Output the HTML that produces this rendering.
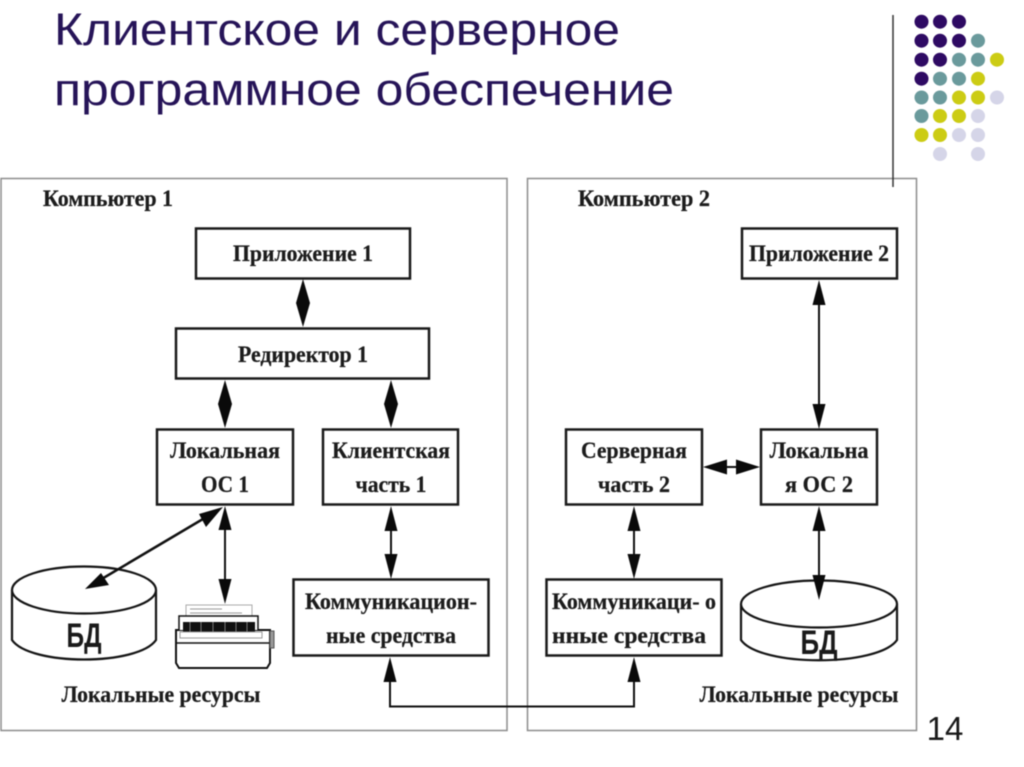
<!DOCTYPE html>
<html><head><meta charset="utf-8"><style>
html,body{margin:0;padding:0;background:#fff;width:1024px;height:767px;overflow:hidden}
svg{display:block;filter:blur(.4px)}
.t{font-family:"Liberation Serif",serif;font-weight:bold;font-size:23px;fill:#1c1c1c;text-anchor:middle;stroke:#1c1c1c;stroke-width:.25}
.h{font-family:"Liberation Sans",sans-serif;font-size:45px;fill:#261458}
.b{fill:#fff;stroke:#1a1a1a;stroke-width:2.5}
.l{stroke:#111;stroke-width:2;fill:none}
.a{fill:#0a0a0a}
</style></head><body>
<svg width="1024" height="767" viewBox="0 0 1024 767" xmlns="http://www.w3.org/2000/svg">
<rect width="1024" height="767" fill="#fff"/>
<text class="h" x="54" y="45" textLength="566" lengthAdjust="spacingAndGlyphs">Клиентское и серверное</text>
<text class="h" x="54" y="105" textLength="620" lengthAdjust="spacingAndGlyphs">программное обеспечение</text>

<!-- panels -->
<rect x="1" y="178.500" width="506" height="552" fill="none" stroke="#8c8c8c" stroke-width="1.500"/>
<rect x="527.500" y="178.500" width="389" height="552" fill="none" stroke="#8c8c8c" stroke-width="1.500"/>
<line x1="893" y1="15" x2="893" y2="187" stroke="#333" stroke-width="1.500"/>

<!-- dots -->
<g fill="#2e0a63">
<circle cx="921.500" cy="21.700" r="7"/><circle cx="940" cy="21.700" r="7"/><circle cx="959" cy="21.700" r="7"/>
<circle cx="921.500" cy="40.700" r="7"/><circle cx="940" cy="40.700" r="7"/><circle cx="959" cy="40.700" r="7"/>
<circle cx="921.500" cy="59.700" r="7"/><circle cx="940" cy="59.700" r="7"/>
<circle cx="921.500" cy="78.700" r="7"/>
</g>
<g fill="#6a9a9c">
<circle cx="978" cy="40.700" r="7"/>
<circle cx="959" cy="59.700" r="7"/><circle cx="978" cy="59.700" r="7"/>
<circle cx="940" cy="78.700" r="7"/><circle cx="959" cy="78.700" r="7"/>
<circle cx="921.500" cy="97.500" r="7"/><circle cx="940" cy="97.500" r="7"/>
<circle cx="921.500" cy="116" r="7"/>
</g>
<g fill="#cccc14">
<circle cx="997" cy="59.700" r="7"/>
<circle cx="978" cy="78.700" r="7"/>
<circle cx="959" cy="97.500" r="7"/><circle cx="978" cy="97.500" r="7"/>
<circle cx="940" cy="116" r="7"/><circle cx="959" cy="116" r="7"/>
<circle cx="921.500" cy="135" r="7"/><circle cx="940" cy="135" r="7"/>
</g>
<g fill="#d5d5e8">
<circle cx="997" cy="97.500" r="7"/>
<circle cx="978" cy="116" r="7"/>
<circle cx="959" cy="135" r="7"/><circle cx="978" cy="135" r="7"/>
<circle cx="940" cy="154" r="7"/><circle cx="978" cy="154" r="7"/>
</g>

<!-- labels -->
<text class="t" x="108" y="206" textLength="130" lengthAdjust="spacingAndGlyphs">Компьютер 1</text>
<text class="t" x="644" y="206" textLength="132" lengthAdjust="spacingAndGlyphs">Компьютер 2</text>

<!-- boxes -->
<rect class="b" x="196" y="228.500" width="214" height="50"/>
<rect class="b" x="176" y="328.500" width="253" height="50"/>
<rect class="b" x="157" y="429.500" width="136" height="75"/>
<rect class="b" x="323" y="429.500" width="135" height="75"/>
<rect class="b" x="293.500" y="579.500" width="195" height="76"/>
<rect class="b" x="742" y="228.500" width="155" height="50"/>
<rect class="b" x="566" y="429.500" width="136" height="75"/>
<rect class="b" x="761" y="429.500" width="116" height="75"/>
<rect class="b" x="546.500" y="579.500" width="175" height="76"/>

<text class="t" x="303" y="261" textLength="140" lengthAdjust="spacingAndGlyphs">Приложение 1</text>
<text class="t" x="303" y="362" textLength="130" lengthAdjust="spacingAndGlyphs">Редиректор 1</text>
<text class="t" x="225" y="458" textLength="110" lengthAdjust="spacingAndGlyphs">Локальная</text>
<text class="t" x="225" y="492" textLength="48" lengthAdjust="spacingAndGlyphs">ОС 1</text>
<text class="t" x="391" y="458" textLength="118" lengthAdjust="spacingAndGlyphs">Клиентская</text>
<text class="t" x="391" y="492" textLength="71" lengthAdjust="spacingAndGlyphs">часть 1</text>
<text class="t" x="391" y="609" textLength="172" lengthAdjust="spacingAndGlyphs">Коммуникацион-</text>
<text class="t" x="391" y="643" textLength="130" lengthAdjust="spacingAndGlyphs">ные средства</text>
<text class="t" x="819" y="261" textLength="140" lengthAdjust="spacingAndGlyphs">Приложение 2</text>
<text class="t" x="634" y="458" textLength="106" lengthAdjust="spacingAndGlyphs">Серверная</text>
<text class="t" x="634" y="492" textLength="72" lengthAdjust="spacingAndGlyphs">часть 2</text>
<text class="t" x="819" y="458" textLength="99" lengthAdjust="spacingAndGlyphs">Локальна</text>
<text class="t" x="819" y="492" textLength="68" lengthAdjust="spacingAndGlyphs">я ОС 2</text>
<text class="t" x="634" y="609" textLength="164" lengthAdjust="spacingAndGlyphs">Коммуникаци- о</text>
<text class="t" x="629" y="643" textLength="154" lengthAdjust="spacingAndGlyphs">нные средства</text>
<text class="t" x="161" y="702" textLength="199" lengthAdjust="spacingAndGlyphs">Локальные ресурсы</text>
<text class="t" x="799" y="702" textLength="199" lengthAdjust="spacingAndGlyphs">Локальные ресурсы</text>

<!-- diamonds (double arrows) -->
<polygon class="a" points="303,279 310,303 303,327 296,303"/>
<polygon class="a" points="225,380 232,404 225,428 218,404"/>
<polygon class="a" points="391,380 398,404 391,428 384,404"/>

<!-- connectors -->
<line class="l" x1="225" y1="515" x2="225" y2="595"/>
<polygon class="a" points="225,506 218.500,530 231.500,530"/><polygon class="a" points="225,604 218.500,579 231.500,579"/>
<line class="l" x1="391" y1="515" x2="391" y2="570"/>
<polygon class="a" points="391,506 384.500,531 397.500,531"/><polygon class="a" points="391,579 384.500,554 397.500,554"/>
<line class="l" x1="634" y1="515" x2="634" y2="570"/>
<polygon class="a" points="634,506 627.500,531 640.500,531"/><polygon class="a" points="634,579 627.500,554 640.500,554"/>
<line class="l" x1="819" y1="290" x2="819" y2="420"/>
<polygon class="a" points="819,280 812.500,305 825.500,305"/><polygon class="a" points="819,429 812.500,404 825.500,404"/>
<line class="l" x1="712" y1="467" x2="752" y2="467"/>
<polygon class="a" points="703,467 727,459.500 727,474.500"/><polygon class="a" points="760,467 736,459.500 736,474.500"/>

<path class="l" d="M390 670 V706.500 H634 V670"/>
<polygon class="a" points="390,657 383.500,682 396.500,682"/><polygon class="a" points="634,657 627.500,682 640.500,682"/>

<!-- DB 1 -->
<g stroke="#151515" stroke-width="2.200" fill="#fff">
<path d="M12 590 V640 C30 666 138 666 156 640 V590"/>
<ellipse cx="84" cy="590" rx="72" ry="23.500"/>
</g>
<text x="84" y="647" text-anchor="middle" font-family="Liberation Sans,sans-serif" font-weight="bold" font-size="34" fill="#1a1a1a" textLength="35" lengthAdjust="spacingAndGlyphs">БД</text>

<!-- DB 2 -->
<g stroke="#151515" stroke-width="2.200" fill="#fff">
<path d="M741 604 V640 C760 667 878 667 897 640 V604"/>
<ellipse cx="819" cy="604" rx="78" ry="23.500"/>
</g>
<text x="819" y="654" text-anchor="middle" font-family="Liberation Sans,sans-serif" font-weight="bold" font-size="34" fill="#1a1a1a" textLength="37" lengthAdjust="spacingAndGlyphs">БД</text>

<!-- arrows over DBs -->
<line x1="100" y1="580" x2="208" y2="516" stroke="#111" stroke-width="2.500"/>
<polygon class="a" points="85,589 101,573 109,585"/><polygon class="a" points="223,507 199,514 206,527"/>
<line class="l" x1="819" y1="515" x2="819" y2="590"/>
<polygon class="a" points="819,506 812.500,531 825.500,531"/><polygon class="a" points="819,600 812.500,575 825.500,575"/>

<!-- printer -->
<g>
<rect x="186" y="605" width="66" height="24" fill="#fff" stroke="#aaa" stroke-width="1"/>
<g stroke="#999" stroke-width="1"><line x1="190" y1="609" x2="222" y2="609"/><line x1="190" y1="613" x2="242" y2="613"/><line x1="190" y1="617" x2="230" y2="617"/></g>
<path d="M176 630 H270 V663 L267 668 H179 L176 663 Z" fill="#fff" stroke="#111" stroke-width="2"/>
<path d="M179 630 V616 H258 V630" fill="#fff" stroke="#111" stroke-width="1.500"/>
<rect x="183" y="622" width="72" height="10" fill="#111"/>
<g stroke="#777" stroke-width="1"><line x1="190" y1="622" x2="190" y2="632"/><line x1="201" y1="622" x2="201" y2="632"/><line x1="213" y1="622" x2="213" y2="632"/><line x1="225" y1="622" x2="225" y2="632"/><line x1="236" y1="622" x2="236" y2="632"/><line x1="247" y1="622" x2="247" y2="632"/></g>
<line x1="176" y1="643" x2="270" y2="643" stroke="#111" stroke-width="1.500"/>
<rect x="180" y="632" width="82" height="6" fill="#fff" stroke="#999" stroke-width="1"/>
<rect x="270" y="631" width="4" height="17" fill="#999" stroke="#555" stroke-width="1"/>
</g>

<text x="945" y="740" text-anchor="middle" font-family="Liberation Sans,sans-serif" font-size="33" fill="#1a1a1a">14</text>
</svg>
</body></html>
